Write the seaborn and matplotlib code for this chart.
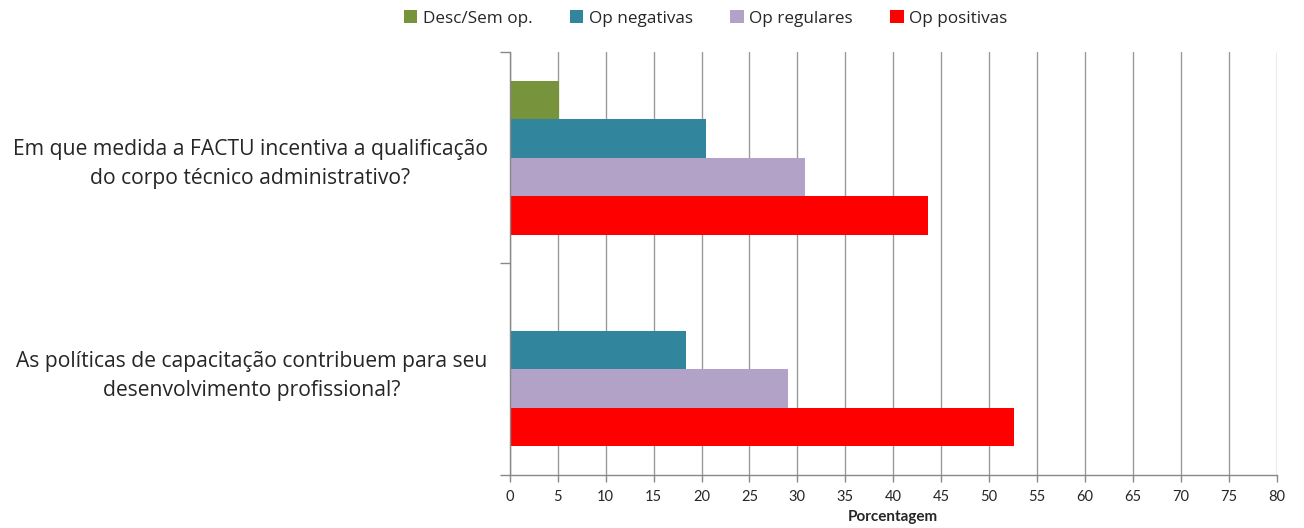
import pandas as pd
import numpy as np
import matplotlib.pyplot as plt
import seaborn as sns
from matplotlib.ticker import MultipleLocator, FixedLocator

questions = ['Em que medida a FACTU incentiva a qualificação\ndo corpo técnico administrativo?',
             'As políticas de capacitação contribuem para seu\ndesenvolvimento profissional?']
series = ['Desc/Sem op.', 'Op negativas', 'Op regulares', 'Op positivas']
desc = [5.1, 0]
negativas = [20.5, 18.4]
regulares = [30.8, 29.0]
positivas = [43.6, 52.6]
colors = ['#77933C', '#31859C', '#B3A2C7', '#FF0000']

rows = []
for s, vals in zip(series, [desc, negativas, regulares, positivas]):
    for q, v in zip(questions, vals):
        rows.append({'Pergunta': q, 'Resposta': s, 'Valor': v})
df = pd.DataFrame(rows)

sns.set_style('white')
plt.rcParams['font.family'] = ['Lato', 'DejaVu Sans']

fig = plt.figure(figsize=(13.04, 5.28), dpi=100)
ax = fig.add_axes([0.391, 0.1004, 0.588, 0.8011])

sns.barplot(data=df, x='Valor', y='Pergunta', hue='Resposta', hue_order=series,
            order=questions, palette=colors, orient='h', width=0.73,
            linewidth=0, saturation=1, ax=ax, legend=True)

ax.set_xlim(0, 80)
ax.set_ylim(1.5, -0.5)
ax.xaxis.set_major_locator(MultipleLocator(5))
ax.grid(True, axis='x', color='#9a9a9a', linewidth=1)
ax.set_axisbelow(True)
ax.yaxis.set_minor_locator(FixedLocator([-0.5, 0.5, 1.5]))
ax.tick_params(axis='y', which='major', length=0, pad=16)
ax.tick_params(axis='y', which='minor', length=7, color='#888888', width=1, left=True)
ax.tick_params(axis='x', length=5, color='#888888', width=1, bottom=True,
               labelsize=10.5, pad=6)
for lab in ax.get_yticklabels():
    lab.set_multialignment('center')
    lab.set_fontfamily('Open Sans')
    lab.set_fontsize(15.2)
    lab.set_linespacing(1.5)

for side in ['top', 'right']:
    ax.spines[side].set_visible(False)
for side in ['left', 'bottom']:
    ax.spines[side].set_color('#888888')
    ax.spines[side].set_linewidth(1)

ax.set_ylabel('')
ax.set_xlabel('Porcentagem', fontsize=11, fontweight='bold', labelpad=4)

handles, labels = ax.get_legend_handles_labels()
ax.legend_.remove()
fig.legend(handles, labels, loc='center', bbox_to_anchor=(0.541, 0.965), ncol=4,
           frameon=False, handlelength=0.8, handleheight=0.8,
           handletextpad=0.3, columnspacing=2.2,
           prop={'family': 'Open Sans', 'size': 12.3})

plt.savefig('out.png', dpi=100)
